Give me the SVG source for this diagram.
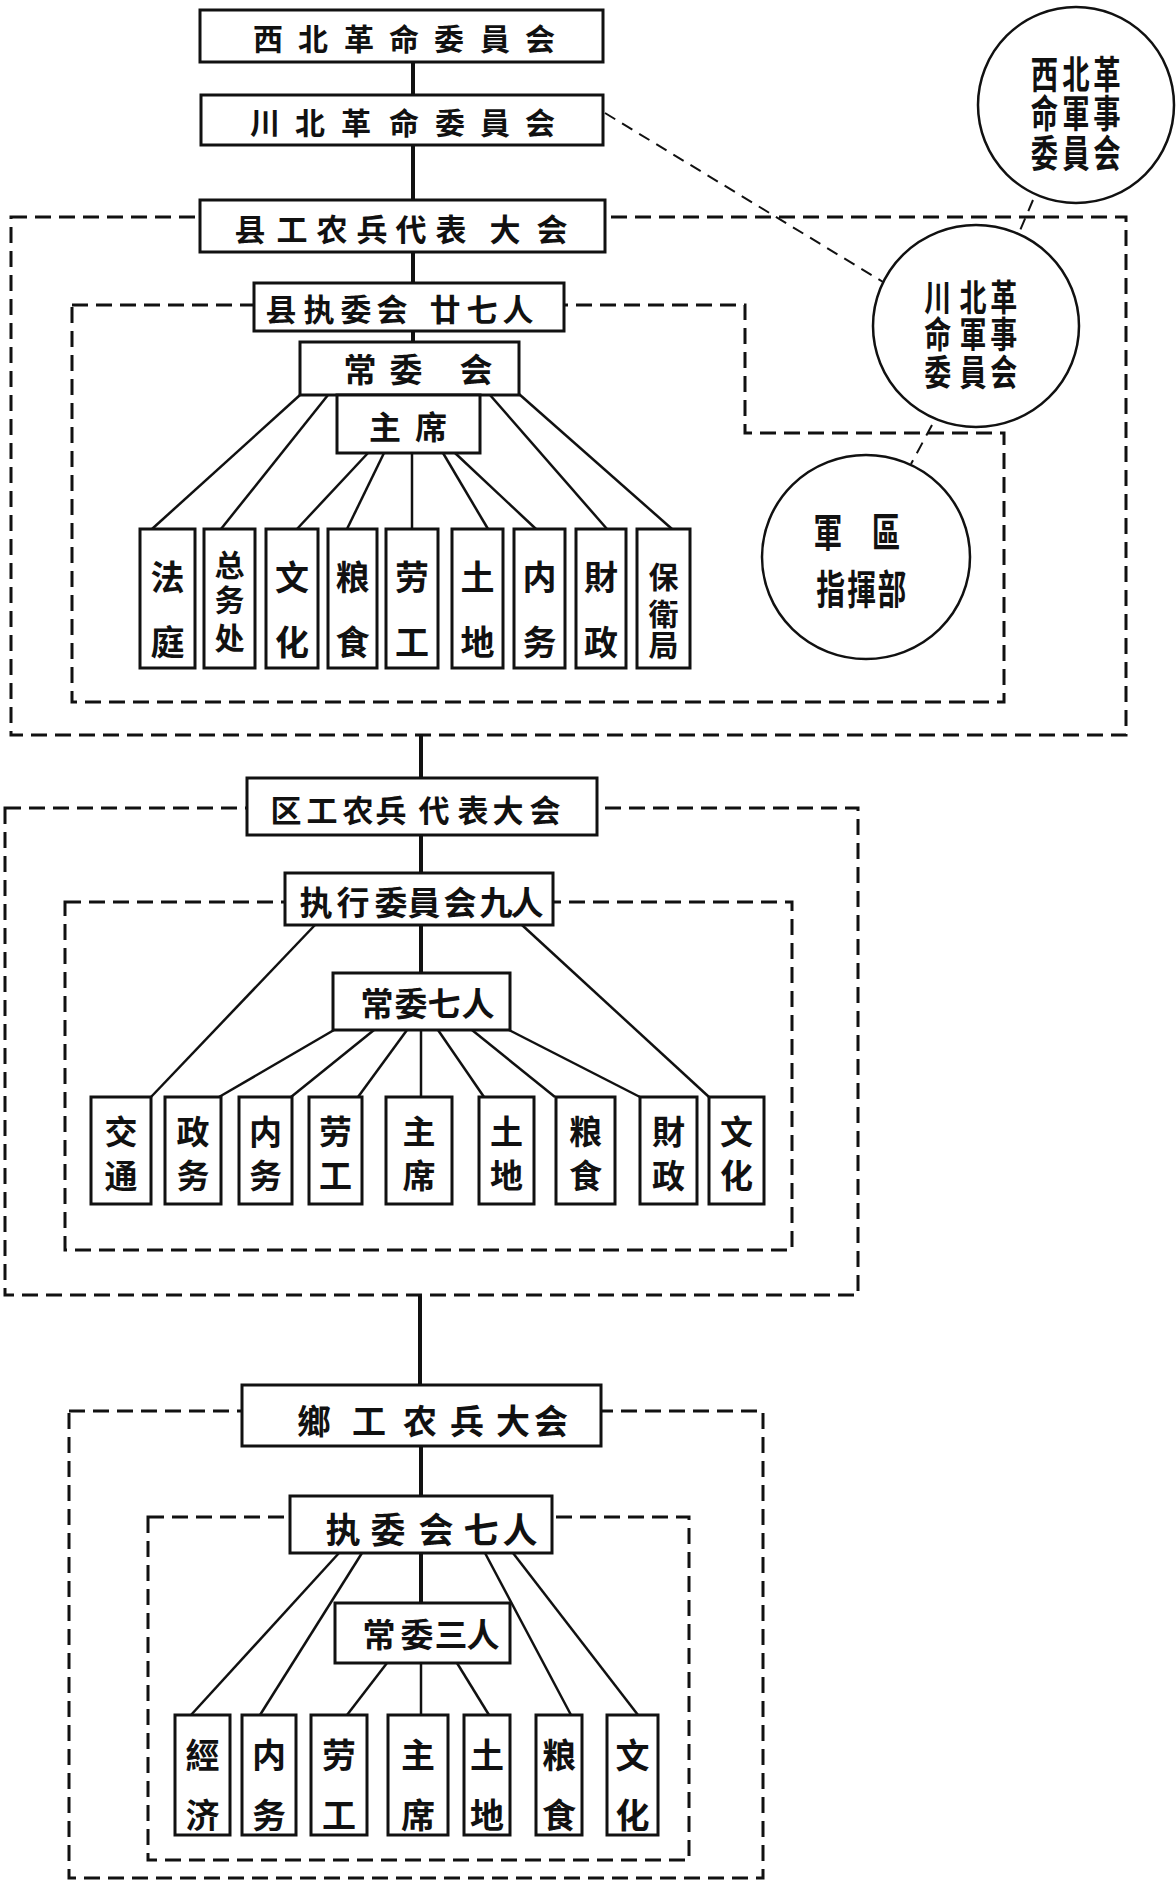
<svg xmlns="http://www.w3.org/2000/svg" width="1176" height="1882" viewBox="0 0 1176 1882">
<style>
.bg{fill:#fff}
.box{fill:#fff;stroke:#111;stroke-width:3}
.circ{fill:#fff;stroke:#111;stroke-width:2.5}
.t{font-family:"Noto Sans CJK SC","Noto Sans CJK TC",sans-serif;font-weight:700;fill:#111;text-anchor:middle;dominant-baseline:central}
.trunk{stroke:#111;stroke-width:4;fill:none}
.br{stroke:#111;stroke-width:2.5;fill:none}
.frame{fill:none;stroke:#111;stroke-width:3;stroke-dasharray:16 8}
.ldash{fill:none;stroke:#111;stroke-width:2;stroke-dasharray:12 8}
</style>
<rect class="bg" x="0" y="0" width="1176" height="1882"/>

<g id="frames">
  <rect class="frame" x="11" y="217" width="1115" height="518"/>
  <path class="frame" d="M72 305 H745 V433 H1004 V702 H72 Z"/>
  <rect class="frame" x="5" y="808" width="853" height="487"/>
  <rect class="frame" x="65" y="902" width="727" height="348"/>
  <rect class="frame" x="69" y="1411" width="694" height="467"/>
  <rect class="frame" x="148" y="1517" width="541" height="343"/>
</g>

<g id="connectors">
  <line class="trunk" x1="413" y1="62" x2="413" y2="95"/>
  <line class="trunk" x1="413" y1="145" x2="413" y2="200"/>
  <line class="trunk" x1="413" y1="252" x2="413" y2="283"/>
  <line class="trunk" x1="413" y1="331" x2="413" y2="342"/>
  <line class="ldash" x1="605" y1="113" x2="883" y2="282"/>
  <line class="ldash" x1="1033" y1="200" x2="1016" y2="240"/>
  <line class="ldash" x1="932" y1="425" x2="911" y2="464"/>
  <line class="br" x1="300" y1="395" x2="152" y2="529"/>
  <line class="br" x1="328" y1="395" x2="221" y2="529"/>
  <line class="br" x1="368" y1="453" x2="297" y2="529"/>
  <line class="br" x1="384" y1="453" x2="347" y2="529"/>
  <line class="br" x1="412" y1="453" x2="412" y2="529"/>
  <line class="br" x1="443" y1="453" x2="488" y2="529"/>
  <line class="br" x1="455" y1="453" x2="536" y2="529"/>
  <line class="br" x1="490" y1="395" x2="607" y2="529"/>
  <line class="br" x1="519" y1="394" x2="672" y2="529"/>
  <line class="trunk" x1="421" y1="735" x2="421" y2="778"/>
  <line class="trunk" x1="421" y1="835" x2="421" y2="873"/>
  <line class="trunk" x1="421" y1="925" x2="421" y2="973"/>
  <line class="br" x1="315" y1="925" x2="151" y2="1097"/>
  <line class="br" x1="522" y1="925" x2="709" y2="1097"/>
  <line class="br" x1="334" y1="1030" x2="219" y2="1097"/>
  <line class="br" x1="374" y1="1030" x2="291" y2="1097"/>
  <line class="br" x1="407" y1="1030" x2="358" y2="1097"/>
  <line class="br" x1="421" y1="1030" x2="421" y2="1097"/>
  <line class="br" x1="438" y1="1030" x2="484" y2="1097"/>
  <line class="br" x1="472" y1="1030" x2="555" y2="1097"/>
  <line class="br" x1="509" y1="1030" x2="640" y2="1097"/>
  <line class="trunk" x1="420" y1="1295" x2="420" y2="1385"/>
  <line class="trunk" x1="421" y1="1446" x2="421" y2="1496"/>
  <line class="trunk" x1="421" y1="1553" x2="421" y2="1603"/>
  <line class="br" x1="339" y1="1553" x2="191" y2="1715"/>
  <line class="br" x1="362" y1="1553" x2="260" y2="1715"/>
  <line class="br" x1="387" y1="1663" x2="347" y2="1715"/>
  <line class="br" x1="421" y1="1663" x2="421" y2="1715"/>
  <line class="br" x1="457" y1="1663" x2="489" y2="1715"/>
  <line class="br" x1="485" y1="1553" x2="571" y2="1715"/>
  <line class="br" x1="513" y1="1553" x2="638" y2="1715"/>
</g>

<g id="n-xibei-geming">
  <rect class="box" x="200" y="10" width="403" height="52"/>
  <text class="t" font-size="30" x="268 313 359 404 449 495 540" y="37">西北革命委員会</text>
</g>
<g id="n-chuanbei-geming">
  <rect class="box" x="201" y="95" width="402" height="50"/>
  <text class="t" font-size="30" x="265 310 356 404 450 495 540" y="121">川北革命委員会</text>
</g>
<g id="n-xian-daibiao">
  <rect class="box" x="200" y="200" width="405" height="52"/>
  <text class="t" font-size="31" x="250 292 332 372 411 451 505 552" y="227">县工农兵代表大会</text>
</g>
<g id="n-xian-zhiwei">
  <rect class="box" x="254" y="283" width="310" height="48"/>
  <text class="t" font-size="31" x="281 319 356 392 445 482 518" y="307">县执委会廿七人</text>
</g>
<g id="n-xian-changwei">
  <rect class="box" x="300" y="342" width="219" height="53"/>
  <text class="t" font-size="33" x="360 406 476" y="368">常委会</text>
</g>
<g id="n-xian-zhuxi">
  <rect class="box" x="337" y="395" width="143" height="58"/>
  <text class="t" font-size="32" x="385 431" y="425">主席</text>
</g>
<g id="n-xian-fating">
  <rect class="box" x="140" y="529" width="55" height="139"/>
  <text class="t" font-size="34" x="167.5 167.5" y="575 640">法庭</text>
</g>
<g id="n-xian-zongwu">
  <rect class="box" x="204" y="529" width="51" height="139"/>
  <text class="t" font-size="30" x="229.5 229.5 229.5" y="563 598 636">总务处</text>
</g>
<g id="n-xian-wenhua">
  <rect class="box" x="266" y="529" width="52" height="139"/>
  <text class="t" font-size="34" x="292 292" y="575 640">文化</text>
</g>
<g id="n-xian-liangshi">
  <rect class="box" x="328" y="529" width="49" height="139"/>
  <text class="t" font-size="34" x="352.5 352.5" y="575 640">粮食</text>
</g>
<g id="n-xian-laogong">
  <rect class="box" x="386" y="529" width="52" height="139"/>
  <text class="t" font-size="34" x="412 412" y="575 640">劳工</text>
</g>
<g id="n-xian-tudi">
  <rect class="box" x="452" y="529" width="51" height="139"/>
  <text class="t" font-size="34" x="477.5 477.5" y="575 640">土地</text>
</g>
<g id="n-xian-neiwu">
  <rect class="box" x="514" y="529" width="51" height="139"/>
  <text class="t" font-size="34" x="539.5 539.5" y="575 640">内务</text>
</g>
<g id="n-xian-caizheng">
  <rect class="box" x="576" y="529" width="50" height="139"/>
  <text class="t" font-size="34" x="601 601" y="575 640">財政</text>
</g>
<g id="n-xian-baowei">
  <rect class="box" x="637" y="529" width="53" height="139"/>
  <text class="t" font-size="30" x="663.5 663.5 663.5" y="575 612 643">保衛局</text>
</g>

<g id="n-xibei-junshi">
  <ellipse class="circ" cx="1076" cy="105" rx="98" ry="98"/>
  <text class="t" font-size="38" transform="translate(1076 0) scale(0.72 1)" x="-44 0 43 -44 0 43 -44 0 43" y="72 72 72 111 111 111 151 151 151">西北革命軍事委員会</text>
</g>
<g id="n-chuanbei-junshi">
  <ellipse class="circ" cx="976" cy="326" rx="103" ry="101"/>
  <text class="t" font-size="36" transform="translate(976 0) scale(0.75 1)" x="-51 -4 37 -51 -4 37 -51 -4 37" y="295 295 295 332 332 332 370 370 370">川北革命軍事委員会</text>
</g>
<g id="n-junqu">
  <ellipse class="circ" cx="866" cy="557" rx="104" ry="102"/>
  <text class="t" font-size="40" transform="translate(866 0) scale(0.72 1)" x="-53 28 -49 -6 36" y="530 530 587 587 587">軍區指揮部</text>
</g>

<g id="n-qu-daibiao">
  <rect class="box" x="247" y="778" width="350" height="57"/>
  <text class="t" font-size="31" x="286 322 358 391 434 473 508 545" y="808">区工农兵代表大会</text>
</g>
<g id="n-qu-zhixing">
  <rect class="box" x="285" y="873" width="268" height="52"/>
  <text class="t" font-size="33" x="316 353 391 424 460 496 527" y="901">执行委員会九人</text>
</g>
<g id="n-qu-changwei">
  <rect class="box" x="333" y="973" width="177" height="57"/>
  <text class="t" font-size="33" x="377 411 444 478" y="1002">常委七人</text>
</g>
<g id="n-qu-jiaotong">
  <rect class="box" x="91" y="1097" width="60" height="107"/>
  <text class="t" font-size="33" x="121 121" y="1130 1174">交通</text>
</g>
<g id="n-qu-zhengwu">
  <rect class="box" x="165" y="1097" width="56" height="107"/>
  <text class="t" font-size="33" x="193 193" y="1130 1174">政务</text>
</g>
<g id="n-qu-neiwu">
  <rect class="box" x="239" y="1097" width="53" height="107"/>
  <text class="t" font-size="33" x="265.5 265.5" y="1130 1174">内务</text>
</g>
<g id="n-qu-laogong">
  <rect class="box" x="309" y="1097" width="53" height="107"/>
  <text class="t" font-size="33" x="335.5 335.5" y="1130 1174">劳工</text>
</g>
<g id="n-qu-zhuxi">
  <rect class="box" x="386" y="1097" width="66" height="107"/>
  <text class="t" font-size="33" x="419 419" y="1130 1174">主席</text>
</g>
<g id="n-qu-tudi">
  <rect class="box" x="479" y="1097" width="55" height="107"/>
  <text class="t" font-size="33" x="506.5 506.5" y="1130 1174">土地</text>
</g>
<g id="n-qu-liangshi">
  <rect class="box" x="556" y="1097" width="59" height="107"/>
  <text class="t" font-size="33" x="585.5 585.5" y="1130 1174">粮食</text>
</g>
<g id="n-qu-caizheng">
  <rect class="box" x="640" y="1097" width="57" height="107"/>
  <text class="t" font-size="33" x="668.5 668.5" y="1130 1174">財政</text>
</g>
<g id="n-qu-wenhua">
  <rect class="box" x="709" y="1097" width="55" height="107"/>
  <text class="t" font-size="33" x="736.5 736.5" y="1130 1174">文化</text>
</g>

<g id="n-xiang-dahui">
  <rect class="box" x="242" y="1385" width="359" height="61"/>
  <text class="t" font-size="34" x="314 369 420 467 513 551" y="1419">鄉工农兵大会</text>
</g>
<g id="n-xiang-zhiwei">
  <rect class="box" x="290" y="1496" width="262" height="57"/>
  <text class="t" font-size="35" x="343 388 436 481 520" y="1527">执委会七人</text>
</g>
<g id="n-xiang-changwei">
  <rect class="box" x="335" y="1603" width="175" height="60"/>
  <text class="t" font-size="33" x="379 417 451 483" y="1633">常委三人</text>
</g>
<g id="n-xiang-jingji">
  <rect class="box" x="175" y="1715" width="55" height="120"/>
  <text class="t" font-size="34" x="202.5 202.5" y="1753 1813">經济</text>
</g>
<g id="n-xiang-neiwu">
  <rect class="box" x="242" y="1715" width="54" height="120"/>
  <text class="t" font-size="34" x="269 269" y="1753 1813">内务</text>
</g>
<g id="n-xiang-laogong">
  <rect class="box" x="311" y="1715" width="56" height="120"/>
  <text class="t" font-size="34" x="339 339" y="1753 1813">劳工</text>
</g>
<g id="n-xiang-zhuxi">
  <rect class="box" x="388" y="1715" width="60" height="120"/>
  <text class="t" font-size="34" x="418 418" y="1753 1813">主席</text>
</g>
<g id="n-xiang-tudi">
  <rect class="box" x="464" y="1715" width="46" height="120"/>
  <text class="t" font-size="34" x="487 487" y="1753 1813">土地</text>
</g>
<g id="n-xiang-liangshi">
  <rect class="box" x="536" y="1715" width="46" height="120"/>
  <text class="t" font-size="34" x="559 559" y="1753 1813">粮食</text>
</g>
<g id="n-xiang-wenhua">
  <rect class="box" x="607" y="1715" width="51" height="120"/>
  <text class="t" font-size="34" x="632.5 632.5" y="1753 1813">文化</text>
</g>
</svg>
